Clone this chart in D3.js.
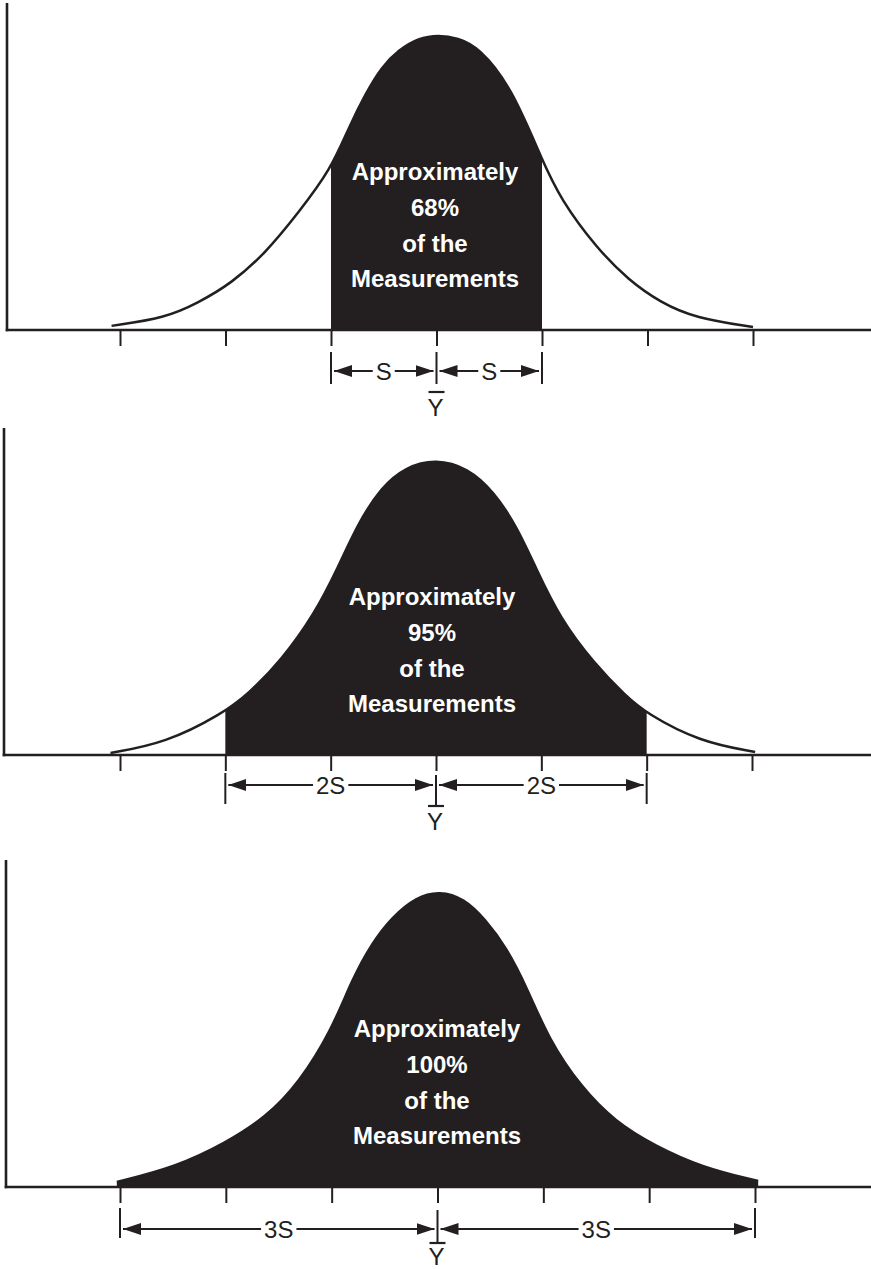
<!DOCTYPE html>
<html>
<head>
<meta charset="utf-8">
<script src="https://cdn.jsdelivr.net/npm/d3@7"></script>
<style>
  html, body { margin: 0; padding: 0; background: #fff; }
  svg { display: block; }
</style>
</head>
<body>
<svg id="chart" width="871" height="1269"></svg>
<script>
// ---------------- DATA ----------------
// tick positions in standard-deviation units from the mean
const tickSigmas = [-3, -2, -1, 0, 1, 2, 3];

// curve samples: [sigma, height relative to peak]
const curve68 = [
  [-3.08, 0.014], [-2.57, 0.041], [-2.26, 0.092], [-1.94, 0.159], [-1.62, 0.261],
  [-1.31, 0.397], [-1.0, 0.545], [-0.83, 0.688], [-0.67, 0.803], [-0.52, 0.892],
  [-0.36, 0.949], [-0.17, 0.99], [0.02, 1.0], [0.2, 0.99], [0.40, 0.959], [0.71, 0.824],
  [1.0, 0.576], [1.18, 0.441], [1.51, 0.281], [1.82, 0.169], [2.13, 0.092],
  [2.45, 0.041], [3.0, 0.01]
];
const curve95 = [
  [-3.09, 0.007], [-2.57, 0.04], [-2.03, 0.139], [-1.78, 0.207], [-1.47, 0.319],
  [-1.15, 0.478], [-0.93, 0.634], [-0.74, 0.783], [-0.52, 0.905], [-0.29, 0.973],
  [0.0, 1.0], [0.3, 0.97], [0.55, 0.89], [0.77, 0.77], [0.95, 0.63], [1.18, 0.46],
  [1.5, 0.31], [1.8, 0.2], [2.0, 0.14], [2.5, 0.045], [3.03, 0.01]
];
const curve100 = [
  [-3.03, 0.017], [-2.47, 0.068], [-2.0, 0.149], [-1.62, 0.236], [-1.31, 0.351],
  [-1.0, 0.53], [-0.81, 0.70], [-0.62, 0.824], [-0.43, 0.912], [-0.2, 0.98],
  [0.02, 1.0], [0.25, 0.975], [0.45, 0.905], [0.65, 0.81], [0.85, 0.67], [1.05, 0.5],
  [1.35, 0.34], [1.68, 0.22], [2.05, 0.14], [2.5, 0.066], [3.03, 0.02]
];

// shaded interval (in sigma) for each panel
const shadeFrom = [-1, -2, -3];
const shadeTo = [1, 2, 3];
const percentLabels = ["68%", "95%", "100%"];
const spanLabels = ["S", "2S", "3S"];
const meanLabel = "Y";
const lineWord1 = "Approximately";
const lineWord3 = "of the";
const lineWord4 = "Measurements";

// ---------------- LAYOUT ----------------
const ink = "#231f20";
const layout = [
  { base: 330, peak: 35, axisX: 7, axisTop: 3, xr: [120, 753], textX: 435,
    ext: [22, 54], ctrExt: 54, dim: 41, bar: 62, yText: 86 },
  { base: 755, peak: 459, axisX: 4, axisTop: 428, xr: [120, 752], textX: 432,
    ext: [18, 49], ctrExt: 51, dim: 30, bar: 51, yText: 75 },
  { base: 1187, peak: 891, axisX: 6, axisTop: 860, xr: [120, 755], textX: 437,
    ext: [21, 51], ctrExt: 56, dim: 42, bar: 56, yText: 77.5 }
];
const curves = [curve68, curve95, curve100];
const textOffsets = [-150, -114, -78, -43];

const svg = d3.select("#chart");
const defs = svg.append("defs");

// arrow marker
defs.append("marker")
  .attr("id", "arrow")
  .attr("viewBox", "0 0 18 12")
  .attr("refX", 18).attr("refY", 6)
  .attr("markerWidth", 18).attr("markerHeight", 12)
  .attr("markerUnits", "userSpaceOnUse")
  .attr("orient", "auto-start-reverse")
  .append("path")
  .attr("d", "M0,0 L18,6 L0,12 Z")
  .attr("fill", ink);

layout.forEach((L, i) => {
  const g = svg.append("g");
  const x = d3.scaleLinear().domain([-3, 3]).range(L.xr);
  const y = d3.scaleLinear().domain([0, 1]).range([L.base, L.peak]);
  const data = curves[i];

  const line = d3.line().x(d => x(d[0])).y(d => y(d[1])).curve(d3.curveBasis);
  const area = d3.area().x(d => x(d[0])).y0(L.base).y1(d => y(d[1])).curve(d3.curveBasis);

  // clip for shaded region
  const clipId = "clip" + i;
  defs.append("clipPath").attr("id", clipId)
    .append("rect")
    .attr("x", x(shadeFrom[i]) - (i === 2 ? 10 : 0))
    .attr("width", x(shadeTo[i]) - x(shadeFrom[i]) + (i === 2 ? 20 : 0))
    .attr("y", L.peak - 10)
    .attr("height", L.base - L.peak + 10);

  g.append("path").datum(data)
    .attr("d", area)
    .attr("fill", ink)
    .attr("clip-path", `url(#${clipId})`);

  g.append("path").datum(data)
    .attr("d", line)
    .attr("fill", "none")
    .attr("stroke", ink)
    .attr("stroke-width", 2.5);

  // axes: vertical line and baseline
  g.append("line")
    .attr("x1", L.axisX).attr("x2", L.axisX)
    .attr("y1", L.axisTop).attr("y2", L.base + 1.2)
    .attr("stroke", ink).attr("stroke-width", 2.6);
  g.append("line")
    .attr("x1", L.axisX - 1.3).attr("x2", 871)
    .attr("y1", L.base).attr("y2", L.base)
    .attr("stroke", ink).attr("stroke-width", 2.6);

  // ticks via d3 axis
  const axis = d3.axisBottom(x).tickValues(tickSigmas).tickSize(16).tickFormat("");
  const ag = g.append("g").attr("transform", `translate(0,${L.base})`).call(axis);
  ag.select(".domain").remove();
  ag.selectAll(".tick line").attr("stroke", ink).attr("stroke-width", 2);

  // extension lines
  const a = shadeFrom[i], b = shadeTo[i];
  [a, b].forEach(s => {
    g.append("line")
      .attr("x1", x(s)).attr("x2", x(s))
      .attr("y1", L.base + L.ext[0]).attr("y2", L.base + L.ext[1])
      .attr("stroke", ink).attr("stroke-width", 2);
  });
  g.append("line")
    .attr("x1", x(0)).attr("x2", x(0))
    .attr("y1", L.base + L.ext[0] + (i === 0 ? 0 : 2)).attr("y2", L.base + L.ctrExt)
    .attr("stroke", ink).attr("stroke-width", 2);

  // dimension lines with arrows
  const gap = 3;
  const segs = [[x(a) + gap, x(0) - gap, (a + 0) / 2], [x(0) + gap, x(b) - gap, (0 + b) / 2]];
  segs.forEach(sg => {
    g.append("line")
      .attr("x1", sg[0]).attr("x2", sg[1])
      .attr("y1", L.base + L.dim).attr("y2", L.base + L.dim)
      .attr("stroke", ink).attr("stroke-width", 2)
      .attr("marker-start", "url(#arrow)")
      .attr("marker-end", "url(#arrow)");
    const t = g.append("text")
      .attr("x", x(sg[2])).attr("y", L.base + L.dim + 8.5)
      .attr("text-anchor", "middle")
      .attr("font-family", "'Liberation Sans', Arial, sans-serif")
      .attr("font-size", 24)
      .attr("fill", ink)
      .text(spanLabels[i]);
    const bb = t.node().getBBox();
    g.insert("rect", function() { return t.node(); })
      .attr("x", bb.x - 3).attr("width", bb.width + 6)
      .attr("y", L.base + L.dim - 4).attr("height", 8)
      .attr("fill", "#fff");
  });

  // mean bar and label
  g.append("line")
    .attr("x1", x(0) - 8).attr("x2", x(0) + 8)
    .attr("y1", L.base + L.bar).attr("y2", L.base + L.bar)
    .attr("stroke", ink).attr("stroke-width", 2.2);
  g.append("text")
    .attr("x", x(0) - 1).attr("y", L.base + L.yText)
    .attr("text-anchor", "middle")
    .attr("font-family", "'Liberation Sans', Arial, sans-serif")
    .attr("font-size", 24)
    .attr("fill", ink)
    .text(meanLabel);

  // white text inside
  const lines = [lineWord1, percentLabels[i], lineWord3, lineWord4];
  lines.forEach((s, k) => {
    g.append("text")
      .attr("x", L.textX).attr("y", L.base + textOffsets[k])
      .attr("text-anchor", "middle")
      .attr("font-family", "'Liberation Sans', Arial, sans-serif")
      .attr("font-weight", "bold")
      .attr("font-size", 24)
      .attr("fill", "#fff")
      .text(s);
  });
});
</script>
</body>
</html>
